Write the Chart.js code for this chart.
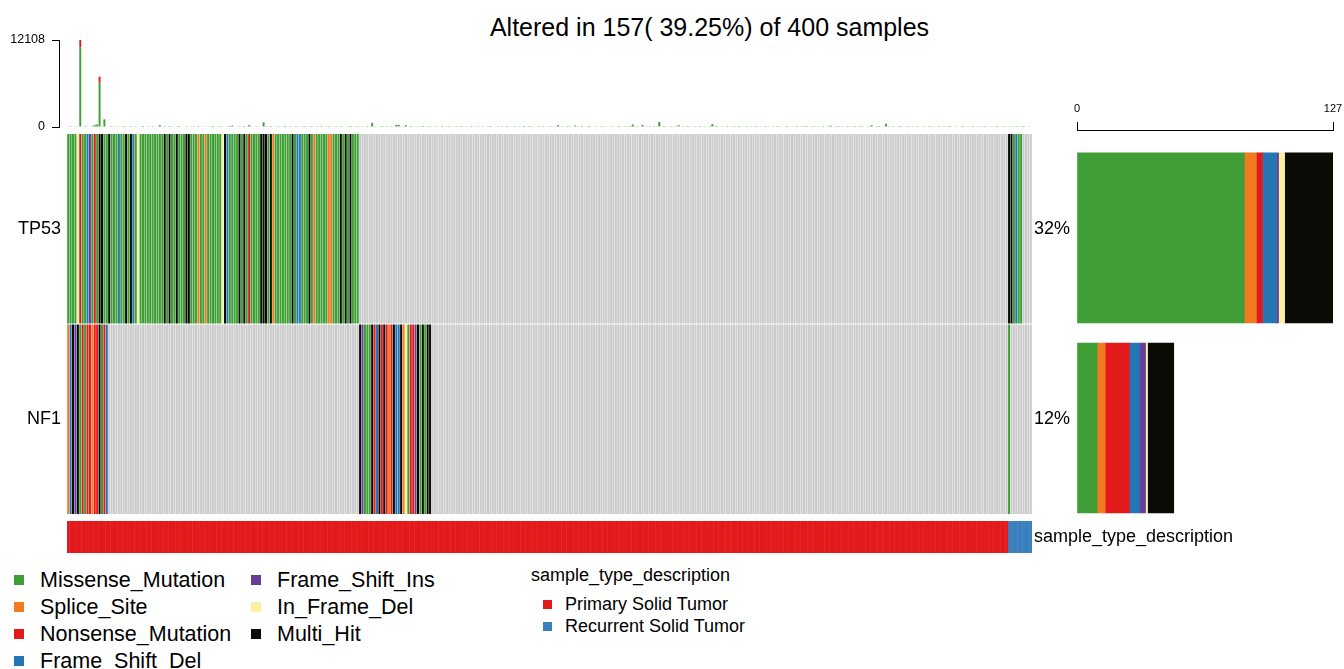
<!DOCTYPE html>
<html>
<head>
<meta charset="utf-8">
<script src="https://cdn.jsdelivr.net/npm/chart.js@4.4.1/dist/chart.umd.min.js"></script>
<style>
  html, body { margin: 0; padding: 0; overflow: hidden; background: #fff; }
  body { width: 1344px; height: 669px; position: relative; font-family: 'Liberation Sans', Arial, sans-serif; color: #000; }
  canvas { position: absolute; }
  .txt { position: absolute; white-space: nowrap; }
  .sq { position: absolute; }
</style>
</head>
<body>
<div id="title" class="txt"></div>
<canvas id="tmb" width="1032" height="100" style="left:0;top:30px"></canvas>
<canvas id="onco" width="1344" height="420" style="left:0;top:133px"></canvas>
<canvas id="genebar" width="304" height="430" style="left:1040px;top:95px"></canvas>
<div id="legend"></div>
<script>
// ---- data ----
const nSamples = 400;
const genes = ['TP53', 'NF1'];
const classNames = ['Missense_Mutation', 'Splice_Site', 'Nonsense_Mutation', 'Frame_Shift_Del', 'Frame_Shift_Ins', 'In_Frame_Del', 'Multi_Hit'];
const classCodes = ['M', 'S', 'N', 'D', 'I', 'F', 'H'];   // '.' = not altered
const classColors = ['#3F9E35', '#F27A21', '#E31A1C', '#2477B5', '#6A3D9A', '#F9F1A0', '#0B0B05'];

// one character per sample, sample order as plotted
const tp53Calls = [
  'MMMMFNMMDI', 'MNMHHMMHMM', 'MDMMHMHDMF', 'MMMMMMMMMM', 'HMHMMHMMMH',
  'HMMMSMMSMM', 'MMMMFHDMMM', 'MHMHMNMMMM', 'HHHMHSMMMM', 'MMMHMDDMMM',
  'HMSMMMMMSS', 'MMMHMHMHMM', 'M.........', '..........', '..........',
  '..........', '..........', '..........', '..........', '..........',
  '..........', '..........', '..........', '..........', '..........',
  '..........', '..........', '..........', '..........', '..........',
  '..........', '..........', '..........', '..........', '..........',
  '..........', '..........', '..........', '..........', 'HHMDMM....'
].join('');
const nf1Calls = [
  'SDHIHMNMNN', 'SNNHMND...', '..........', '..........', '..........',
  '..........', '..........', '..........', '..........', '..........',
  '..........', '..........', '.HIMMMHNDH', 'NHNSNHDDHS', 'FMNNIHMHMH',
  'H.........', '..........', '..........', '..........', '..........',
  '..........', '..........', '..........', '..........', '..........',
  '..........', '..........', '..........', '..........', '..........',
  '..........', '..........', '..........', '..........', '..........',
  '..........', '..........', '..........', '..........', 'M.........'
].join('');

const annotName = 'sample_type_description';
const annotLevels = ['Primary Solid Tumor', 'Recurrent Solid Tumor'];
const annotCounts = [390, 10];
const annotColors = ['#E31A1C', '#3A80BE'];

// variants per sample (top bar)
const tmbMissense = [
  90, 120, 70, 110, 60, 11090, 80, 130, 95, 70, 140, 300, 350, 6165, 110, 1070, 60, 90, 130, 75,
  100, 85, 60, 140, 95, 70, 120, 80, 110, 65, 90, 150, 70, 100, 85, 120, 60, 95, 250, 80,
  110, 70, 130, 90, 60, 100, 140, 75, 85, 120, 65, 95, 110, 70, 130, 80, 100, 60, 90, 115,
  140, 75, 95, 120, 60, 85, 105, 130, 200, 70, 90, 110, 65, 140, 80, 250, 100, 75, 120, 90,
  60, 650, 110, 85, 130, 70, 95, 120, 60, 100, 140, 80, 115, 70, 90, 125, 65, 105, 135, 75,
  95, 120, 60, 110, 80, 140, 70, 100, 130, 65, 90, 115, 75, 125, 85, 60, 105, 140, 70, 95,
  120, 80, 100, 65, 135, 90, 600, 110, 75, 95, 130, 60, 105, 85, 120, 70, 300, 300, 90, 110,
  250, 75, 130, 95, 60, 115, 85, 140, 70, 100, 120, 65, 95, 110, 80, 135, 70, 100, 125, 60,
  90, 115, 75, 140, 85, 105, 60, 130, 95, 70, 120, 80, 110, 65, 100, 140, 75, 90, 125, 60,
  105, 85, 130, 70, 95, 120, 60, 110, 80, 140, 75, 100, 125, 65, 90, 115, 85, 130, 70, 100,
  120, 60, 95, 250, 85, 110, 70, 135, 90, 65, 200, 105, 80, 125, 60, 100, 140, 75, 95, 115,
  70, 130, 85, 100, 60, 120, 90, 75, 140, 105, 65, 110, 85, 130, 350, 95, 120, 70, 300, 100,
  85, 125, 60, 110, 90, 700, 75, 135, 100, 65, 120, 80, 105, 250, 70, 115, 95, 140, 60, 90,
  110, 75, 130, 85, 100, 65, 120, 400, 90, 140, 70, 105, 80, 125, 60, 95, 115, 75, 135, 100,
  65, 120, 90, 110, 75, 140, 85, 100, 60, 130, 95, 70, 115, 80, 125, 105, 65, 90, 140, 75,
  100, 85, 120, 60, 110, 95, 135, 70, 90, 125, 80, 105, 65, 140, 75, 115, 200, 60, 100, 130,
  85, 110, 70, 125, 95, 60, 140, 80, 105, 120, 65, 90, 115, 250, 75, 100, 135, 60, 95, 450,
  110, 80, 125, 70, 100, 140, 65, 90, 120, 85, 105, 60, 130, 75, 95, 115, 70, 140, 85, 100,
  60, 125, 90, 110, 75, 135, 100, 65, 120, 85, 95, 140, 70, 105, 80, 130, 60, 115, 90, 100,
  125, 70, 95, 110, 85, 140, 65, 100, 120, 80, 90, 115, 75, 130, 60, 105, 140, 85, 95, 70
];
const tmbNonsenseSamples = [5, 13];
const tmbNonsense = [1018, 835];
const tmbTicks = [0, 12108];

// ---- derived ----
Chart.defaults.font.family = "'Liberation Sans', Arial, sans-serif";
Chart.defaults.color = '#000';

const calls = [tp53Calls, nf1Calls];
const sampleIds = Array.from({ length: nSamples }, (_, i) => 'S' + (i + 1));
const sampleType = [];
annotLevels.forEach((lvl, k) => { for (let i = 0; i < annotCounts[k]; i++) sampleType.push(lvl); });

const geneCounts = calls.map(str => classCodes.map(code => [...str].filter(c => c === code).length));
const geneTotals = geneCounts.map(row => row.reduce((a, b) => a + b, 0));
let altered = 0;
for (let i = 0; i < nSamples; i++) if (calls.some(s => s[i] !== '.')) altered++;

const title = document.getElementById('title');
title.textContent = `Altered in ${altered}( ${(altered / nSamples * 100).toFixed(2)}%) of ${nSamples} samples`;
Object.assign(title.style, { left: '0px', width: '1419px', textAlign: 'center', top: '14px', fontSize: '25px', lineHeight: '26px' });

const PLOT_LEFT = 67, PLOT_RIGHT = 1032, TMB_AXIS_X = 59;
const pxPerSample = (PLOT_RIGHT - PLOT_LEFT) / nSamples;
const noVPad = s => { s.paddingTop = 0; s.paddingBottom = 0; };
const noHPad = s => { s.paddingLeft = 0; s.paddingRight = 0; };

// ---- top bar: variants per sample ----
new Chart(document.getElementById('tmb'), {
  type: 'bar',
  data: {
    datasets: [
      { data: tmbMissense.map((v, i) => ({ x: i, y: v })), backgroundColor: classColors[0] },
      { data: tmbNonsenseSamples.map((s, k) => ({ x: s, y: tmbNonsense[k] })), backgroundColor: classColors[2] }
    ]
  },
  options: {
    responsive: false, animation: false, devicePixelRatio: 1,
    layout: { padding: { top: 10, bottom: 3 } },
    plugins: { legend: { display: false }, tooltip: { enabled: false } },
    datasets: { bar: { categoryPercentage: 1, barPercentage: 0.8, borderWidth: 0 } },
    scales: {
      x: {
        type: 'linear', display: false, stacked: true, offset: false,
        min: -0.5 - (PLOT_LEFT - TMB_AXIS_X) / pxPerSample, max: nSamples - 0.5
      },
      y: {
        stacked: true, min: 0, max: tmbTicks[1],
        grid: { drawOnChartArea: false, color: '#000', tickLength: 7 },
        border: { color: '#000' },
        afterBuildTicks: s => { s.ticks = tmbTicks.map(v => ({ value: v })); },
        ticks: { padding: 7, font: { size: 12.5 }, color: '#000', callback: v => String(v) },
        afterFit: s => { s.width = TMB_AXIS_X; noVPad(s); }
      }
    }
  }
});

// ---- oncoplot body + annotation ----
const ROW_H = 189.5, ROW_GAP = 1, ANNOT_GAP = 7, ANNOT_H = 32;
const rowTop = [1, 1 + ROW_H + ROW_GAP];
const annotTop = rowTop[1] + ROW_H + ANNOT_GAP;
const yMax = annotTop + ANNOT_H;
const leftTicks = rowTop.map(t => t + ROW_H / 2);
const rightTicks = [...leftTicks, annotTop + ANNOT_H / 2];
const rightLabels = [...geneTotals.map(n => Math.round(n / nSamples * 100) + '%'), annotName];

const oncoSets = [];
calls.forEach((str, g) => {
  const band = [rowTop[g], rowTop[g] + ROW_H];
  oncoSets.push({ data: [...str].map(c => c === '.' ? band : null), backgroundColor: '#CBCBCB' });
  classCodes.forEach((code, k) => {
    oncoSets.push({ data: [...str].map(c => c === code ? band : null), backgroundColor: classColors[k] });
  });
});
annotLevels.forEach((lvl, k) => {
  oncoSets.push({
    data: sampleType.map(t => t === lvl ? [annotTop, annotTop + ANNOT_H] : null),
    backgroundColor: annotColors[k], barPercentage: 1.2
  });
});

new Chart(document.getElementById('onco'), {
  type: 'bar',
  data: { labels: sampleIds, datasets: oncoSets },
  options: {
    responsive: false, animation: false, devicePixelRatio: 1,
    layout: { padding: 0 },
    plugins: { legend: { display: false }, tooltip: { enabled: false } },
    datasets: { bar: { grouped: false, categoryPercentage: 1, barPercentage: 0.85, borderWidth: 0 } },
    scales: {
      x: { display: false },
      y: {
        position: 'left', min: 0, max: yMax, reverse: true,
        grid: { display: false, drawTicks: false }, border: { display: false },
        afterBuildTicks: s => { s.ticks = leftTicks.map(v => ({ value: v })); },
        ticks: { padding: 6, font: { size: 18 }, color: '#000', autoSkip: false, callback: (v, i) => genes[i] },
        afterFit: s => { s.width = PLOT_LEFT; noVPad(s); }
      },
      yR: {
        position: 'right', min: 0, max: yMax, reverse: true,
        grid: { display: false, drawTicks: false }, border: { display: false },
        afterBuildTicks: s => { s.ticks = rightTicks.map(v => ({ value: v })); },
        ticks: { padding: 2, font: { size: 18 }, color: '#000', autoSkip: false, callback: (v, i) => rightLabels[i] },
        afterFit: s => { s.width = 1344 - PLOT_RIGHT; noVPad(s); }
      }
    }
  }
});

// ---- right bar: classes per gene ----
const barMax = Math.max(...geneTotals);
new Chart(document.getElementById('genebar'), {
  type: 'bar',
  data: {
    datasets: classCodes.map((code, k) => ({
      data: genes.map((g, gi) => ({ y: gi, x: geneCounts[gi][k] })),
      backgroundColor: classColors[k]
    }))
  },
  options: {
    indexAxis: 'y',
    responsive: false, animation: false, devicePixelRatio: 1,
    layout: { padding: { left: 37, right: 11, bottom: 2 } },
    plugins: { legend: { display: false }, tooltip: { enabled: false } },
    datasets: { bar: { barThickness: 170, borderWidth: 0 } },
    scales: {
      x: {
        position: 'top', min: 0, max: barMax, stacked: true,
        grid: { drawOnChartArea: false, color: '#000', tickLength: 8 },
        border: { color: '#000' },
        afterBuildTicks: s => { s.ticks = [0, barMax].map(v => ({ value: v })); },
        ticks: { padding: 6, font: { size: 11 }, color: '#000', maxRotation: 0 },
        afterFit: s => { s.height = 35; noHPad(s); }
      },
      y: {
        type: 'linear', display: false, stacked: true, reverse: true, offset: false, min: -0.568, max: 1.5,
        afterBuildTicks: s => { s.ticks = [0, 1].map(v => ({ value: v })); }
      }
    }
  }
});

// ---- legends ----
const legend = document.getElementById('legend');
function addItem(x, cy, size, color, text, textX, font) {
  if (color) {
    const sq = document.createElement('div');
    sq.className = 'sq';
    Object.assign(sq.style, { left: x + 'px', top: (cy - size / 2) + 'px', width: size + 'px', height: size + 'px', background: color });
    legend.appendChild(sq);
  }
  const t = document.createElement('div');
  t.className = 'txt';
  t.textContent = text;
  Object.assign(t.style, { left: textX + 'px', top: (cy - 13) + 'px', lineHeight: '26px', fontSize: font + 'px' });
  legend.appendChild(t);
}
classNames.forEach((name, k) => {
  const col = k < 4 ? 0 : 1;
  const row = k < 4 ? k : k - 4;
  const sx = col === 0 ? 14 : 251;
  addItem(sx, 580 + row * 27, 10, classColors[k], name, sx + 26, 21.5);
});
addItem(0, 575, 0, null, annotName, 531, 18);
annotLevels.forEach((lvl, k) => addItem(543, 604 + k * 22, 9, annotColors[k], lvl, 565, 18));
</script>
</body>
</html>
